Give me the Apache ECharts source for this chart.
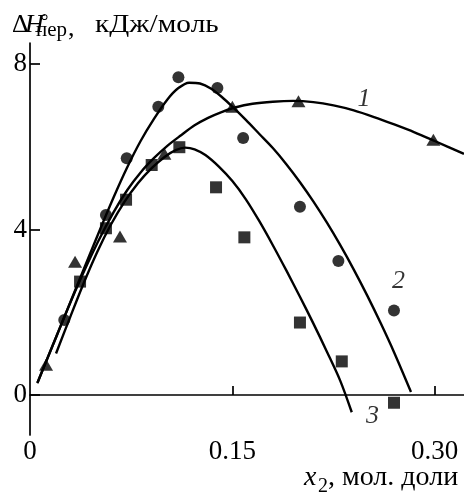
<!DOCTYPE html>
<html><head><meta charset="utf-8">
<script src="https://cdn.jsdelivr.net/npm/echarts@6/dist/echarts.min.js"></script>
<style>html,body{margin:0;padding:0;background:#fff}#c{width:464px;height:494px}</style>
</head><body><div id="c"></div>
<script>
// ---- data ----
const xTickValues = [0, 0.15, 0.30];
const yTickValues = [0, 4, 8];
// experimental points
const pts1 = [[0.0119,0.73],[0.0334,3.22],[0.0667,3.83],[0.0996,5.83],[0.150,6.97],[0.199,7.10],[0.299,6.17]];
const pts2 = [[0.0254,1.81],[0.0563,4.35],[0.0717,5.72],[0.0951,6.97],[0.110,7.68],[0.1389,7.42],[0.158,6.21],[0.2001,4.55],[0.2286,3.24],[0.2698,2.04]];
const pts3 = [[0.0371,2.74],[0.0563,4.03],[0.0712,4.72],[0.0902,5.56],[0.1107,5.99],[0.1379,5.02],[0.1589,3.81],[0.2001,1.75],[0.2311,0.81],[0.2698,-0.19]];
// fitted curves
const fit1 = [[0.0054,0.28],[0.020,1.45],[0.035,2.62],[0.050,3.68],[0.062,4.42],[0.072,4.95],[0.082,5.38],[0.092,5.73],[0.102,6.03],[0.112,6.28],[0.122,6.52],[0.132,6.70],[0.142,6.84],[0.152,6.95],[0.165,7.04],[0.180,7.09],[0.195,7.11],[0.210,7.08],[0.225,7.00],[0.240,6.88],[0.255,6.72],[0.270,6.54],[0.285,6.35],[0.300,6.14],[0.3217,5.83]];
const fit2 = [[0.0056,0.30],[0.020,1.45],[0.035,2.65],[0.050,3.85],[0.062,4.78],[0.072,5.50],[0.082,6.14],[0.092,6.68],[0.102,7.15],[0.110,7.42],[0.118,7.55],[0.126,7.53],[0.134,7.41],[0.142,7.21],[0.150,6.97],[0.160,6.65],[0.170,6.31],[0.180,5.97],[0.190,5.58],[0.200,5.15],[0.210,4.68],[0.220,4.17],[0.230,3.62],[0.240,3.03],[0.250,2.40],[0.260,1.73],[0.270,1.02],[0.2824,0.07]];
const fit3 = [[0.0193,1.00],[0.030,1.90],[0.040,2.72],[0.050,3.47],[0.060,4.12],[0.070,4.67],[0.080,5.12],[0.090,5.48],[0.100,5.76],[0.108,5.92],[0.115,5.98],[0.122,5.94],[0.130,5.80],[0.140,5.52],[0.150,5.17],[0.160,4.73],[0.170,4.20],[0.180,3.62],[0.190,3.01],[0.200,2.38],[0.210,1.73],[0.220,1.05],[0.230,0.34],[0.2385,-0.42]];
const curveLabels = [['1',0.2476,7.14],['2',0.2732,2.74],['3',0.2539,-0.52]];
const xName = ['x', '2', ', мол. доли'];
const yName = ['Δ', 'H', '°', 'пер', ',', 'кДж/моль'];

const SERIF = '"Liberation Serif","Times New Roman",serif';
const chart = echarts.init(document.getElementById('c'), null, {renderer:'canvas'});
const lineStyle = {color:'#000', width:2.4};
function fitSeries(d){ return {type:'line', data:d, showSymbol:false, smooth:0.3, lineStyle:lineStyle, silent:true, z:2}; }
function ptSeries(d, sym, size){ return {type:'scatter', data:d, symbol:sym, symbolSize:size, itemStyle:{color:'#000'}, z:3}; }
function txt(t, x, y, font, extra){ return Object.assign({type:'text', x:x, y:y, style:{text:t, font:font, fill:'#000', textVerticalAlign:'bottom'}}, extra||{}); }
chart.setOption({
  animation:false,
  backgroundColor:'#fff',
  grid:{left:30, right:0, top:43, bottom:59, containLabel:false},
  xAxis:{type:'value', min:0, max:0.3217,
    axisLine:{lineStyle:{color:'#000', width:1.7}},
    axisTick:{inside:true, length:9, lineStyle:{color:'#000', width:1.7}, customValues:xTickValues.slice(1)},
    axisLabel:{customValues:xTickValues, color:'#000', fontFamily:SERIF, fontSize:27, margin:3,
      formatter:v => v===0 ? '0' : v.toFixed(2)},
    splitLine:{show:false}},
  yAxis:{type:'value', min:-0.97, max:8.51,
    axisLine:{show:true, lineStyle:{color:'#000', width:1.7}},
    axisTick:{show:true, inside:true, length:10, lineStyle:{color:'#000', width:1.7}, customValues:yTickValues},
    axisLabel:{customValues:yTickValues, color:'#000', fontFamily:SERIF, fontSize:27, margin:3},
    splitLine:{show:false}},
  series:[
    fitSeries(fit1), fitSeries(fit2), fitSeries(fit3),
    ptSeries(pts1,'triangle',[14,12]),
    ptSeries(pts2,'circle',12),
    ptSeries(pts3,'rect',12),
    {type:'scatter', symbolSize:0, z:4, silent:true,
     data:curveLabels.map(c=>({name:c[0], value:[c[1],c[2]]})),
     label:{show:true, position:'inside', formatter:'{b}', color:'#000', fontFamily:SERIF, fontStyle:'italic', fontSize:26}}
  ],
  graphic:[
    txt(yName[0], 12, 38.5, '26px '+SERIF),
    txt(yName[1], 25, 38.5, 'italic 26px '+SERIF),
    txt(yName[2], 40.5, 33, '20px '+SERIF),
    txt(yName[3], 36, 41, '21px '+SERIF),
    txt(yName[4], 68, 42, '26px '+SERIF),
    txt(yName[5], 95, 38.5, '26px '+SERIF, {scaleX:1.13}),
    txt(xName[0], 304, 492, 'italic 28px '+SERIF),
    txt(xName[1], 318, 497, '20px '+SERIF),
    txt(xName[2], 328, 492, '28px '+SERIF)
  ]
});
</script></body></html>
